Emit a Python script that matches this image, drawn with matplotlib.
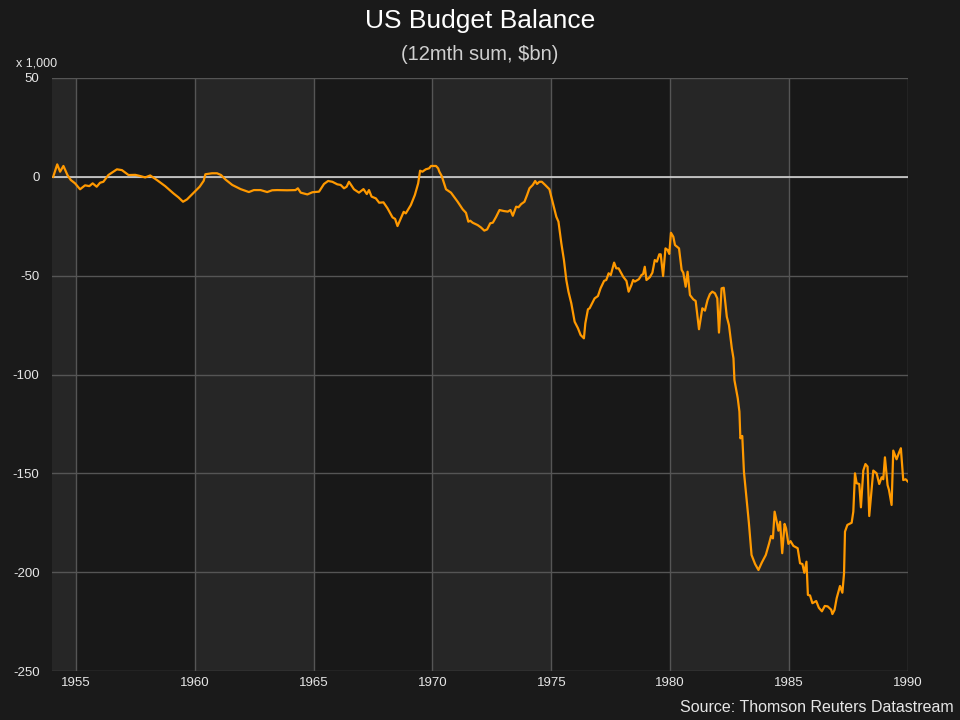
import matplotlib
matplotlib.use("Agg")
import matplotlib.pyplot as plt

plt.rcParams['font.family'] = ['Liberation Sans', 'DejaVu Sans']

title = "US Budget Balance"
subtitle = "(12mth sum, $bn)"
source = "Source: Thomson Reuters Datastream"
unit_label = "x 1,000"

years = [
    1954.05, 1954.22, 1954.34, 1954.48, 1954.65, 1954.79, 1954.97, 1955.18, 1955.39, 1955.57,
    1955.71, 1955.88, 1956.02, 1956.16, 1956.37, 1956.73, 1956.94, 1957.22, 1957.50, 1957.71,
    1957.92, 1958.13, 1958.41, 1958.76, 1959.11, 1959.32, 1959.51, 1959.68, 1959.96, 1960.21,
    1960.38, 1960.45, 1960.73, 1960.94, 1961.11, 1961.29, 1961.58, 1961.93, 1962.28, 1962.49,
    1962.77, 1963.05, 1963.26, 1963.47, 1963.89, 1964.24, 1964.34, 1964.46, 1964.74, 1964.95,
    1965.23, 1965.44, 1965.61, 1965.79, 1966.00, 1966.14, 1966.28, 1966.39, 1966.49, 1966.70,
    1966.91, 1967.10, 1967.24, 1967.33, 1967.44, 1967.62, 1967.76, 1967.94, 1968.11, 1968.32,
    1968.43, 1968.53, 1968.64, 1968.79, 1968.88, 1969.09, 1969.26, 1969.40, 1969.48, 1969.58,
    1969.72, 1969.86, 1969.94, 1970.15, 1970.24, 1970.29, 1970.39, 1970.57, 1970.78, 1971.06,
    1971.27, 1971.41, 1971.51, 1971.59, 1971.69, 1971.90, 1972.04, 1972.18, 1972.30, 1972.43,
    1972.54, 1972.68, 1972.82, 1973.00, 1973.17, 1973.28, 1973.38, 1973.52, 1973.62, 1973.73,
    1973.87, 1973.98, 1974.08, 1974.22, 1974.32, 1974.40, 1974.50, 1974.60, 1974.74, 1974.92,
    1975.07, 1975.21, 1975.30, 1975.42, 1975.53, 1975.63, 1975.72, 1975.84, 1975.98, 1976.12,
    1976.23, 1976.37, 1976.43, 1976.54, 1976.61, 1976.68, 1976.82, 1976.96, 1977.07, 1977.22,
    1977.31, 1977.41, 1977.50, 1977.64, 1977.73, 1977.83, 1978.02, 1978.16, 1978.25, 1978.37,
    1978.44, 1978.51, 1978.68, 1978.79, 1978.86, 1978.93, 1979.00, 1979.14, 1979.25, 1979.35,
    1979.44, 1979.54, 1979.60, 1979.70, 1979.80, 1979.89, 1979.96, 1980.03, 1980.13, 1980.20,
    1980.37, 1980.48, 1980.55, 1980.65, 1980.73, 1980.83, 1980.97, 1981.07, 1981.21, 1981.35,
    1981.46, 1981.57, 1981.67, 1981.77, 1981.88, 1981.98, 1982.05, 1982.16, 1982.25, 1982.38,
    1982.47, 1982.59, 1982.66, 1982.70, 1982.84, 1982.91, 1982.95, 1983.03, 1983.10, 1983.21,
    1983.31, 1983.42, 1983.57, 1983.71, 1983.85, 1984.02, 1984.16, 1984.24, 1984.32, 1984.39,
    1984.48, 1984.55, 1984.62, 1984.71, 1984.81, 1984.87, 1984.97, 1985.06, 1985.18, 1985.36,
    1985.46, 1985.56, 1985.64, 1985.73, 1985.79, 1985.88, 1985.98, 1986.14, 1986.25, 1986.38,
    1986.50, 1986.62, 1986.77, 1986.82, 1986.91, 1987.00, 1987.14, 1987.24, 1987.31, 1987.35,
    1987.45, 1987.63, 1987.70, 1987.77, 1987.84, 1987.95, 1988.02, 1988.12, 1988.21, 1988.30,
    1988.37, 1988.54, 1988.68, 1988.79, 1988.89, 1988.96, 1989.03, 1989.14, 1989.20, 1989.31,
    1989.38, 1989.52, 1989.62, 1989.70, 1989.80, 1989.90, 1990.00,
]

balance = [
    0.0, 6.3, 2.6, 5.5, 0.9, -1.6, -3.3, -6.3, -4.3, -4.7,
    -3.3, -5.0, -3.0, -2.5, 0.9, 3.8, 3.4, 0.9, 1.0, 0.4,
    -0.3, 0.7, -1.6, -4.7, -8.4, -10.4, -12.6, -11.4, -8.0, -5.0,
    -2.0, 1.3, 1.8, 1.8, 0.9, -1.3, -4.1, -6.2, -7.7, -6.7,
    -6.7, -7.7, -6.8, -6.7, -6.8, -6.7, -5.8, -8.0, -8.9, -7.8,
    -7.5, -3.6, -2.1, -2.5, -3.8, -4.1, -5.8, -5.0, -2.5, -6.3,
    -8.0, -6.2, -8.7, -6.7, -10.0, -10.9, -13.1, -12.9, -15.9, -20.5,
    -21.3, -24.9, -21.9, -17.7, -18.5, -14.3, -9.2, -3.3, 3.1, 2.6,
    3.8, 4.3, 5.5, 5.5, 4.3, 2.6, 0.4, -6.3, -8.0, -12.6,
    -16.4, -18.2, -22.7, -22.2, -23.2, -24.4, -25.6, -27.2, -26.6, -23.5,
    -23.2, -20.2, -16.8, -17.3, -17.6, -16.8, -19.7, -15.1, -15.4, -13.8,
    -12.6, -9.2, -5.8, -4.1, -2.1, -3.6, -2.5, -2.5, -4.1, -6.3,
    -13.4, -20.2, -22.7, -33.6, -42.1, -52.2, -58.1, -64.0, -73.3, -76.6,
    -80.0, -81.7, -74.1, -67.0, -66.5, -64.8, -61.5, -60.3, -56.4, -52.6,
    -52.2, -48.8, -49.7, -43.4, -46.3, -46.3, -50.5, -52.7, -58.1, -54.7,
    -52.2, -53.0, -51.8, -49.7, -49.2, -45.5, -52.2, -50.8, -48.5, -42.1,
    -42.9, -39.2, -39.2, -50.2, -36.2, -37.0, -39.0, -28.3, -30.3, -34.5,
    -36.2, -47.1, -48.5, -55.6, -48.0, -59.8, -62.0, -62.8, -77.1, -66.5,
    -67.7, -62.3, -59.3, -58.1, -58.9, -61.5, -78.8, -56.4, -56.1, -70.8,
    -75.0, -86.7, -91.8, -102.8, -112.0, -118.8, -132.3, -131.1, -149.2, -162.6,
    -175.3, -191.3, -195.9, -198.9, -195.2, -191.3, -185.4, -181.7, -182.9, -169.4,
    -174.5, -179.0, -174.5, -190.4, -175.6, -177.8, -185.7, -184.3, -186.7, -187.9,
    -195.5, -195.9, -200.3, -194.7, -211.5, -211.8, -215.7, -214.6, -218.0, -219.8,
    -217.1, -217.3, -219.0, -221.2, -219.1, -213.2, -207.0, -210.4, -200.6, -179.5,
    -176.1, -175.0, -169.4, -150.0, -155.0, -155.4, -167.2, -148.6, -145.3, -146.6,
    -171.6, -148.6, -150.0, -155.4, -152.0, -153.0, -141.9, -155.9, -158.4, -166.0,
    -138.5, -142.9, -139.6, -137.3, -153.4, -153.0, -154.2,
]

x_ticks = [1955, 1960, 1965, 1970, 1975, 1980, 1985, 1990]
y_ticks = [50, 0, -50, -100, -150, -200, -250]
band_edges = [1954, 1955, 1960, 1965, 1970, 1975, 1980, 1985, 1990]

BG = "#1a1a1a"
DARK = "#181818"
LIGHT = "#262626"
GRID = "#555555"
TEXT = "#e6e6e6"

fig = plt.figure(figsize=(9.6, 7.2), dpi=100, facecolor=BG)
ax = fig.add_axes([52/960, 1-671/720, (908-52)/960, (671-78)/720])
ax.set_facecolor(DARK)

for i in range(len(band_edges) - 1):
    col = LIGHT if i % 2 == 0 else DARK
    ax.axvspan(band_edges[i], band_edges[i+1], color=col, lw=0, zorder=0)

ax.set_xlim(1954, 1990)
ax.set_ylim(-250, 50)
ax.set_xticks(x_ticks)
ax.set_yticks(y_ticks)
ax.set_xticklabels([str(t) for t in x_ticks])
ax.set_yticklabels([str(t) for t in y_ticks])
ax.grid(True, color=GRID, lw=1, zorder=1)
ax.axhline(0, color="#e0e0e0", lw=1.1, zorder=2)
for s in ax.spines.values():
    s.set_visible(False)
ax.tick_params(axis='both', length=0, colors=TEXT, labelsize=9.5)
ax.tick_params(axis='y', pad=9)
ax.tick_params(axis='x', pad=4)

ax.plot(years, balance, color="#ff9900", lw=1.6, zorder=3, solid_joinstyle='round')

fig.text(0.5, 1-21/720, title, ha='center', va='center', color='white', fontsize=19)
fig.text(0.5, 1-54/720, subtitle, ha='center', va='center', color='#d0d0d0', fontsize=14.5)
fig.text(16/960, 1-63/720, unit_label, ha='left', va='center', color=TEXT, fontsize=9)
fig.text(954/960, 1-707/720, source, ha='right', va='center', color=TEXT, fontsize=11.5)

fig.savefig("out.png", dpi=100, facecolor=BG)
